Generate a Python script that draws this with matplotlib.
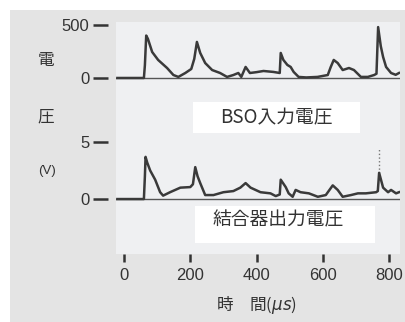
import matplotlib
matplotlib.use("Agg")
import matplotlib.pyplot as plt
from matplotlib.patches import Rectangle

plt.rcParams['font.family'] = ['Liberation Sans', 'Noto Sans CJK JP', 'DejaVu Sans']

# ---- data (time in µs) ----
t_bso = [-20, 60, 63, 67, 72, 85, 103, 130, 149, 164, 185, 203, 212, 220, 230, 245, 266, 290,
         311, 330, 345, 354, 367, 380, 400, 421, 451, 470, 473, 481, 493, 503, 512, 527, 550,
         584, 615, 624, 633, 645, 660, 679, 694, 715, 736, 755, 762, 767, 775, 782, 791, 806,
         820, 830]
v_bso = [0, 0, 120, 400, 370, 245, 170, 94, 28, 10, 47, 85, 180, 340, 236, 141, 75, 47,
         10, 28, 47, 10, 104, 47, 55, 66, 57, 47, 236, 170, 123, 104, 57, 10, 5,
         10, 28, 104, 170, 141, 75, 94, 75, 10, 10, 28, 40, 480, 300, 198, 104, 47,
         30, 47]

t_cpl = [-20, 60, 63, 65, 70, 79, 94, 109, 118, 139, 170, 200, 208, 215, 222, 230, 245, 270,
         300, 330, 351, 367, 382, 412, 442, 458, 470, 473, 488, 497, 509, 518, 533, 558, 585,
         609, 630, 645, 660, 685, 706, 730, 761, 766, 770, 782, 797, 806, 821, 830]
v_cpl = [0, 0, 2.0, 3.7, 3.2, 2.5, 1.7, 0.6, 0.3, 0.6, 1.0, 1.05, 1.3, 2.8, 2.0, 1.4, 0.35, 0.35,
         0.6, 0.7, 1.0, 1.4, 1.0, 0.6, 0.5, 0.26, 0.4, 1.7, 1.05, 0.5, 0.2, 0.8, 0.6, 0.5, 0.2,
         0.35, 1.2, 0.8, 0.2, 0.35, 0.5, 0.5, 0.6, 0.7, 2.3, 1.0, 0.6, 0.8, 0.5, 0.6]
t_cpl_spike = [770, 770]
v_cpl_spike = [2.3, 4.5]

x_ticks = [0, 200, 400, 600, 800]
x_ticklabels = ['0', '200', '400', '600', '800']
bso_ticks = [0, 500]
cpl_ticks = [0, 5]

W, H = 405, 322
fig = plt.figure(figsize=(W / 100, H / 100), dpi=100)
fig.patch.set_facecolor('#e4e4e4')
# white margin strips (top and left) of the scanned page
fig.patches.append(Rectangle((0, 1 - 10 / H), 1, 10 / H, transform=fig.transFigure,
                             facecolor='white', edgecolor='none', zorder=-10))
fig.patches.append(Rectangle((0, 0), 10 / W, 1, transform=fig.transFigure,
                             facecolor='white', edgecolor='none', zorder=-10))

def fx(px):
    return px / W

def fy(py):
    return 1 - py / H

left, right = 116, 400
ax1 = fig.add_axes([fx(left), fy(140), (right - left) / W, (140 - 22) / H])
ax2 = fig.add_axes([fx(left), fy(254), (right - left) / W, (254 - 140) / H], sharex=ax1)

trace_c = '#3a3a3a'
for ax in (ax1, ax2):
    ax.set_facecolor('#eff0f2')
    for s in ax.spines.values():
        s.set_visible(False)
    ax.spines['left'].set_position(('outward', 6))
    ax.tick_params(axis='y', length=11, width=1.8, color='#333333', pad=2,
                   labelsize=12, labelcolor='#333333')
    ax.axhline(0, color='#555555', lw=1.0, zorder=1)

ax1.plot(t_bso, v_bso, color=trace_c, lw=1.8, zorder=3, solid_joinstyle='round')
ax2.plot(t_cpl, v_cpl, color=trace_c, lw=1.8, zorder=3, solid_joinstyle='round')
ax2.plot(t_cpl_spike, v_cpl_spike, color='#777777', lw=1.0, ls=':', zorder=2)

ax1.set_xlim(-24.2, 833)
ax1.set_ylim(-585, 528)
ax2.set_ylim(-4.82, 5.18)
ax1.set_yticks(bso_ticks)
ax1.set_yticklabels([str(v) for v in bso_ticks])
ax2.set_yticks(cpl_ticks)
ax2.set_yticklabels([str(v) for v in cpl_ticks])

ax1.tick_params(axis='x', bottom=False, labelbottom=False)
ax2.set_xticks(x_ticks)
ax2.set_xticklabels(x_ticklabels)
ax2.tick_params(axis='x', length=6, width=1.8, color='#333333', pad=4,
                labelsize=12, labelcolor='#333333')

# label boxes
cjk = ['Noto Sans CJK JP', 'DejaVu Sans']
ax1.add_patch(Rectangle((0.271, 0.059), 0.588, 0.263, transform=ax1.transAxes,
                        facecolor='white', edgecolor='none', zorder=2))
ax1.text(0.563, 0.186, 'BSO入力電圧', transform=ax1.transAxes, ha='center', va='center',
         fontsize=13.5, family=cjk, color='#333333', zorder=4)
ax2.add_patch(Rectangle((0.278, 0.096), 0.634, 0.325, transform=ax2.transAxes,
                        facecolor='white', edgecolor='none', zorder=2))
ax2.text(0.570, 0.298, '結合器出力電圧', transform=ax2.transAxes, ha='center', va='center',
         fontsize=13.5, family=cjk, color='#333333', zorder=4)

# y-axis label pieces
fig.text(fx(46), fy(60), '電', ha='center', va='center', fontsize=12, family=cjk, color='#333333')
fig.text(fx(46), fy(117), '圧', ha='center', va='center', fontsize=12, family=cjk, color='#333333')
fig.text(fx(47), fy(171), '(V)', ha='center', va='center', fontsize=9.5, color='#333333')

# x-axis label
fig.text(fx(256), fy(305), '時\u3000間($\\mu s$)', ha='center', va='center', fontsize=12,
         family=cjk, color='#333333')

fig.savefig('out.png', dpi=100, facecolor=fig.get_facecolor())
